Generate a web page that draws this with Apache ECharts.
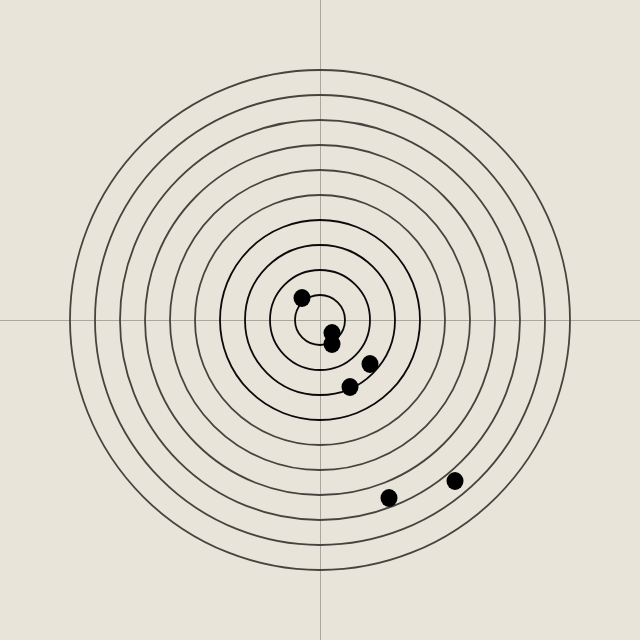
<!DOCTYPE html>
<html><head><meta charset="utf-8">
<script src="https://cdn.jsdelivr.net/npm/echarts@6/dist/echarts.min.js"></script>
<style>html,body{margin:0;padding:0;background:#e8e4da}#c{width:640px;height:640px}</style>
</head><body><div id="c"></div>
<script>
const ringRadii = [25, 50, 75, 100, 125, 150, 175, 200, 225, 250];
const darkRings = 4;
const shotX = [-18, 12, 12, 50, 30, 69, 135];
const shotY = [22, -13, -24, -44, -67, -178, -161];

const chart = echarts.init(document.getElementById('c'), null, {renderer: 'canvas'});
const shots = shotX.map((x, i) => [x, shotY[i]]);
const rings = ringRadii.map((r, i) => [r, i]);
const axisCommon = {
  type: 'value', min: -320, max: 320,
  axisLine: {show: true, onZero: true, lineStyle: {color: '#a9a89e', width: 1}},
  axisTick: {show: false}, axisLabel: {show: false}, splitLine: {show: false}
};
chart.setOption({
  backgroundColor: '#e8e4da',
  animation: false,
  grid: {left: 0, right: 0, top: 0, bottom: 0},
  xAxis: Object.assign({}, axisCommon),
  yAxis: Object.assign({}, axisCommon),
  series: [
    {
      type: 'custom',
      data: rings,
      renderItem: function (params, api) {
        const r = api.value(0);
        const idx = api.value(1);
        const c = api.coord([0, 0]);
        const rr = api.size([r, 0])[0];
        return {
          type: 'circle',
          shape: {cx: c[0], cy: c[1], r: rr},
          style: {fill: 'none', stroke: idx < darkRings ? '#0a0a0a' : '#45443e', lineWidth: 1.8}
        };
      },
      silent: true, z: 2
    },
    {
      type: 'scatter',
      data: shots,
      symbol: 'circle',
      symbolSize: [17, 18],
      itemStyle: {color: '#000000', opacity: 1},
      z: 3
    }
  ]
});
</script></body></html>
